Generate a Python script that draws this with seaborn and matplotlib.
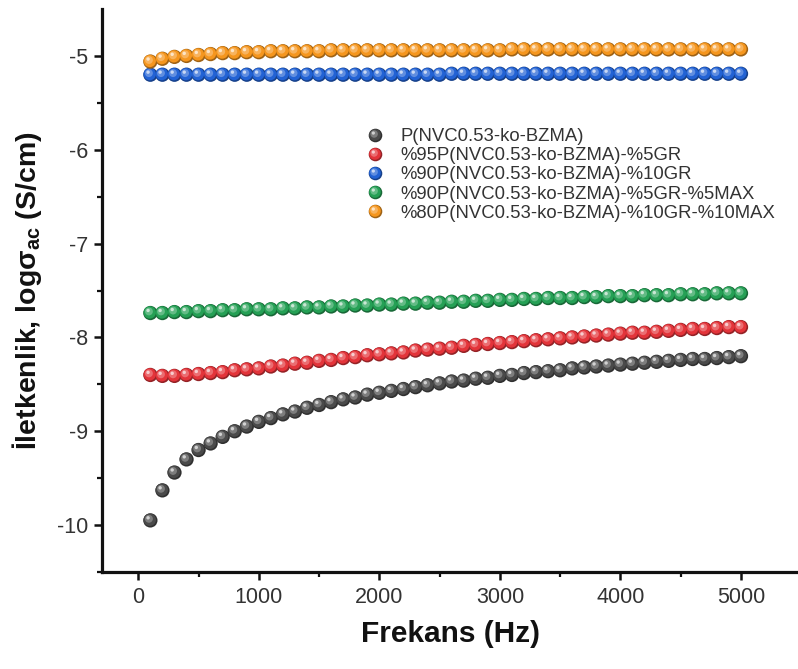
import numpy as np
import pandas as pd
import matplotlib
matplotlib.use("Agg")
import matplotlib.pyplot as plt
from matplotlib.path import Path
from matplotlib.markers import MarkerStyle
from matplotlib.lines import Line2D
from matplotlib.legend_handler import HandlerTuple
from matplotlib.colors import to_rgb
import seaborn as sns

# Frequency axis (Hz)
frekans = list(range(100, 5001, 100))

# log(sigma_ac) per sample
p_nvc_bzma = [
    -9.95, -9.63, -9.44, -9.30, -9.20, -9.13, -9.06, -9.00, -8.95, -8.90,
    -8.86, -8.82, -8.79, -8.75, -8.72, -8.69, -8.66, -8.64, -8.61, -8.59,
    -8.57, -8.55, -8.53, -8.51, -8.49, -8.47, -8.46, -8.44, -8.43, -8.41,
    -8.40, -8.38, -8.37, -8.36, -8.35, -8.33, -8.32, -8.31, -8.30, -8.29,
    -8.28, -8.27, -8.26, -8.25, -8.24, -8.23, -8.23, -8.22, -8.21, -8.20,
]
gr5 = [
    -8.40, -8.41, -8.41, -8.40, -8.39, -8.38, -8.37, -8.35, -8.34, -8.33,
    -8.31, -8.30, -8.28, -8.27, -8.25, -8.24, -8.22, -8.21, -8.19, -8.18,
    -8.17, -8.16, -8.14, -8.13, -8.12, -8.11, -8.09, -8.08, -8.07, -8.06,
    -8.05, -8.04, -8.03, -8.02, -8.01, -8.00, -7.99, -7.98, -7.97, -7.96,
    -7.95, -7.95, -7.94, -7.93, -7.92, -7.91, -7.91, -7.90, -7.89, -7.89,
]
gr10 = [
    -5.20, -5.20, -5.20, -5.20, -5.20, -5.20, -5.20, -5.20, -5.20, -5.20,
    -5.20, -5.20, -5.20, -5.20, -5.20, -5.20, -5.20, -5.20, -5.20, -5.20,
    -5.20, -5.20, -5.20, -5.20, -5.20, -5.19, -5.19, -5.19, -5.19, -5.19,
    -5.19, -5.19, -5.19, -5.19, -5.19, -5.19, -5.19, -5.19, -5.19, -5.19,
    -5.19, -5.19, -5.19, -5.19, -5.19, -5.19, -5.19, -5.19, -5.19, -5.19,
]
gr5_max5 = [
    -7.74, -7.74, -7.73, -7.73, -7.72, -7.72, -7.71, -7.71, -7.70, -7.70,
    -7.70, -7.69, -7.69, -7.68, -7.68, -7.67, -7.67, -7.66, -7.66, -7.65,
    -7.65, -7.64, -7.64, -7.63, -7.63, -7.62, -7.62, -7.61, -7.61, -7.60,
    -7.60, -7.59, -7.59, -7.58, -7.58, -7.58, -7.57, -7.57, -7.56, -7.56,
    -7.56, -7.55, -7.55, -7.55, -7.54, -7.54, -7.54, -7.53, -7.53, -7.53,
]
gr10_max10 = [
    -5.06, -5.03, -5.01, -5.00, -4.99, -4.98, -4.97, -4.97, -4.96, -4.96,
    -4.95, -4.95, -4.95, -4.95, -4.95, -4.94, -4.94, -4.94, -4.94, -4.94,
    -4.94, -4.94, -4.94, -4.94, -4.94, -4.94, -4.94, -4.94, -4.94, -4.94,
    -4.93, -4.93, -4.93, -4.93, -4.93, -4.93, -4.93, -4.93, -4.93, -4.93,
    -4.93, -4.93, -4.93, -4.93, -4.93, -4.93, -4.93, -4.93, -4.93, -4.93,
]

series_names = [
    "P(NVC0.53-ko-BZMA)",
    "%95P(NVC0.53-ko-BZMA)-%5GR",
    "%90P(NVC0.53-ko-BZMA)-%10GR",
    "%90P(NVC0.53-ko-BZMA)-%5GR-%5MAX",
    "%80P(NVC0.53-ko-BZMA)-%10GR-%10MAX",
]
series_values = [p_nvc_bzma, gr5, gr10, gr5_max5, gr10_max10]
series_colors = ["#4a4a4a", "#e3343a", "#2262d4", "#25a055", "#f5961e"]

df = pd.DataFrame({
    "Frekans": np.tile(frekans, len(series_names)),
    "logsigma": np.concatenate(series_values),
    "seri": np.repeat(series_names, len(frekans)),
})

sns.set_style("ticks")
plt.rcParams["font.family"] = ["Liberation Sans", "DejaVu Sans"]
plt.rcParams["axes.unicode_minus"] = False
plt.rcParams["mathtext.fontset"] = "custom"
plt.rcParams["mathtext.rm"] = "Liberation Sans:bold"
plt.rcParams["mathtext.it"] = "Liberation Sans:bold"
plt.rcParams["mathtext.bf"] = "Liberation Sans:bold"


def ball_layer(r, cx, cy):
    """Circle marker of radius r at (cx, cy) in units of the full ball radius."""
    circ = Path.circle((cx, cy), r)
    verts = np.vstack([[1.0, 0.0], circ.vertices])
    codes = np.concatenate([[Path.MOVETO], circ.codes])
    return MarkerStyle(Path(verts, codes))


def mix(c, t, target):
    c = np.array(to_rgb(c))
    return tuple(c + (np.array(target) - c) * t)


# shaded-ball layers: (marker, colour transform)
layers = [
    (ball_layer(1.0, 0.0, 0.0), lambda c: mix(c, 0.35, (0, 0, 0))),
    (ball_layer(0.86, -0.08, 0.08), lambda c: mix(c, 0.0, (1, 1, 1))),
    (ball_layer(0.55, -0.2, 0.22), lambda c: mix(c, 0.28, (1, 1, 1))),
    (ball_layer(0.24, -0.32, 0.36), lambda c: mix(c, 0.75, (1, 1, 1))),
]
MS = 10.3

fig = plt.figure(figsize=(7.98, 6.69), dpi=100)
ax = fig.add_axes([0.128, 0.145, 0.872, 0.8415])

handles = []
for name, col in zip(series_names, series_colors):
    sub = df[df["seri"] == name]
    for mk, fn in layers:
        sns.scatterplot(data=sub, x="Frekans", y="logsigma", color=fn(col),
                        marker=mk, s=MS ** 2, linewidth=0, edgecolor="none",
                        legend=False, ax=ax)
    handles.append(tuple(
        Line2D([], [], linestyle="none", marker=mk, markersize=MS * 0.95,
               markerfacecolor=fn(col), markeredgewidth=0)
        for mk, fn in layers))

ax.set_xlim(-300, 5473)
ax.set_ylim(-10.5, -4.5)
ax.set_xticks([0, 1000, 2000, 3000, 4000, 5000])
ax.set_xticks([500, 1500, 2500, 3500, 4500], minor=True)
ax.set_yticks([-10, -9, -8, -7, -6, -5])
ax.set_yticks([-10.5, -9.5, -8.5, -7.5, -6.5, -5.5], minor=True)

sns.despine(ax=ax)
for side in ("left", "bottom"):
    ax.spines[side].set_linewidth(2.3)
    ax.spines[side].set_color("#111111")

ax.tick_params(which="major", direction="out", length=6, width=1.8,
               color="#111111", labelsize=15.5, labelcolor="#333333")
ax.tick_params(axis="x", which="major", pad=5)
ax.tick_params(axis="y", which="major", pad=4)
ax.tick_params(which="minor", direction="out", length=3.5, width=1.6,
               color="#111111")

ax.set_xlabel("Frekans (Hz)", fontsize=21.5, fontweight="bold", color="#111111")
ax.set_ylabel("İletkenlik, log$\\sigma_{\\rm ac}$ (S/cm)", fontsize=20.5,
              fontweight="bold", color="#111111")
ax.xaxis.set_label_coords(0.5, -0.085)
ax.yaxis.set_label_coords(-0.083, 0.5)

ax.legend(handles, series_names,
          handler_map={tuple: HandlerTuple(ndivide=1)},
          loc="upper left", bbox_to_anchor=(366 / 798, 1 - 128 / 669),
          bbox_transform=fig.transFigure, frameon=False, fontsize=13.3,
          handlelength=1.0, handletextpad=0.85, labelspacing=0.12,
          borderpad=0, borderaxespad=0, labelcolor="#333333")

fig.savefig("out.png", dpi=100, facecolor="white")
